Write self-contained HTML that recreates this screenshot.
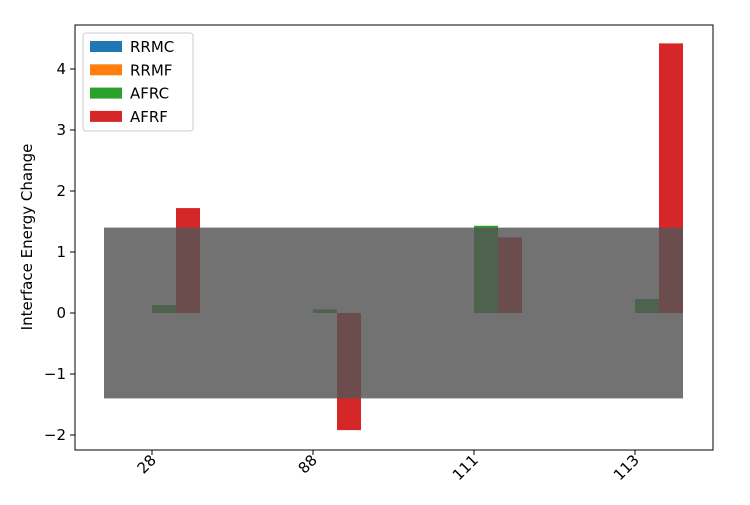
<!DOCTYPE html>
<html><head><meta charset="utf-8"><style>
body{margin:0;background:#fff;font-family:"Liberation Sans","DejaVu Sans",sans-serif}
</style></head><body>
<svg id="chart" width="750" height="500" xmlns="http://www.w3.org/2000/svg" font-family="DejaVu Sans, Liberation Sans, sans-serif">
<rect width="750" height="500" fill="#fff"/>
<g id="bars"></g>
<rect id="band" fill="rgb(85,85,85)" fill-opacity="0.83"/>
<rect x="75" y="25" width="638" height="425" fill="none" stroke="#000" stroke-width="1"/>
<g id="yt"></g>
<g id="xt"></g>
<text transform="translate(32,237) rotate(-90)" text-anchor="middle" font-size="15">Interface Energy Change</text>
<g>
<rect x="83" y="33" width="110" height="98" rx="3" fill="#fff" fill-opacity="0.8" stroke="#ccc"/>
<g id="leg"></g>
</g>
</svg>
<script>
const categories=["28","88","111","113"];
const seriesNames=["RRMC","RRMF","AFRC","AFRF"];
const colors=["#1f77b4","#ff7f0e","#2ca02c","#d62728"];
const rrmc=[0,0,0,0];
const rrmf=[0,0,0,0];
const afrc=[0.13,0.06,1.43,0.23];
const afrf=[1.72,-1.92,1.24,4.42];
const yTicks=[-2,-1,0,1,2,3,4];
const bandRange=[-1.4,1.4];
const series=[rrmc,rrmf,afrc,afrf];
const NS="http://www.w3.org/2000/svg";
const y=v=>313-v*61;
const xc=i=>152+i*161;
const bw=24;
const bars=document.getElementById('bars');
series.forEach((s,si)=>s.forEach((v,i)=>{
 const r=document.createElementNS(NS,'rect');
 const x0=xc(i)-2*bw+si*bw;
 r.setAttribute('x',x0);r.setAttribute('width',bw);
 r.setAttribute('y',Math.min(y(v),y(0)));r.setAttribute('height',Math.abs(y(v)-y(0)));
 r.setAttribute('fill',colors[si]);
 
 
 bars.appendChild(r);
}));
const band=document.getElementById('band');
band.setAttribute('x',xc(0)-2*bw);band.setAttribute('width',xc(categories.length-1)+2*bw-(xc(0)-2*bw));
band.setAttribute('y',y(bandRange[1]));band.setAttribute('height',y(bandRange[0])-y(bandRange[1]));
const yt=document.getElementById('yt');
yTicks.forEach(t=>{
 const l=document.createElementNS(NS,'line');
 l.setAttribute('x1',70);l.setAttribute('x2',75);l.setAttribute('y1',y(t));l.setAttribute('y2',y(t));l.setAttribute('stroke','#000');
 
 
 yt.appendChild(l);
 const tx=document.createElementNS(NS,'text');
 tx.setAttribute('x',66);tx.setAttribute('y',y(t)+5);tx.setAttribute('text-anchor','end');tx.setAttribute('font-size','15');
 tx.textContent=(t<0?'\u2212'+(-t):t);
 
 
 yt.appendChild(tx);
});
const xt=document.getElementById('xt');
categories.forEach((c,i)=>{
 const l=document.createElementNS(NS,'line');
 l.setAttribute('x1',xc(i));l.setAttribute('x2',xc(i));l.setAttribute('y1',450);l.setAttribute('y2',455);l.setAttribute('stroke','#000');
 
 
 xt.appendChild(l);
 const tx=document.createElementNS(NS,'text');
 tx.setAttribute('transform','translate('+(xc(i)+5)+',461) rotate(-45)');
 tx.setAttribute('text-anchor','end');tx.setAttribute('font-size','15');
 tx.textContent=c;
 
 
 xt.appendChild(tx);
});
const leg=document.getElementById('leg');
seriesNames.forEach((n,i)=>{
 const yy=41+i*23.3;
 const r=document.createElementNS(NS,'rect');
 r.setAttribute('x',90);r.setAttribute('y',yy);r.setAttribute('width',32);r.setAttribute('height',11);r.setAttribute('fill',colors[i]);
 
 
 leg.appendChild(r);
 const t=document.createElementNS(NS,'text');
 t.setAttribute('x',130);t.setAttribute('y',yy+11);t.setAttribute('font-size','15');t.textContent=n;
 
 
 leg.appendChild(t);
});
</script>
</body></html>
